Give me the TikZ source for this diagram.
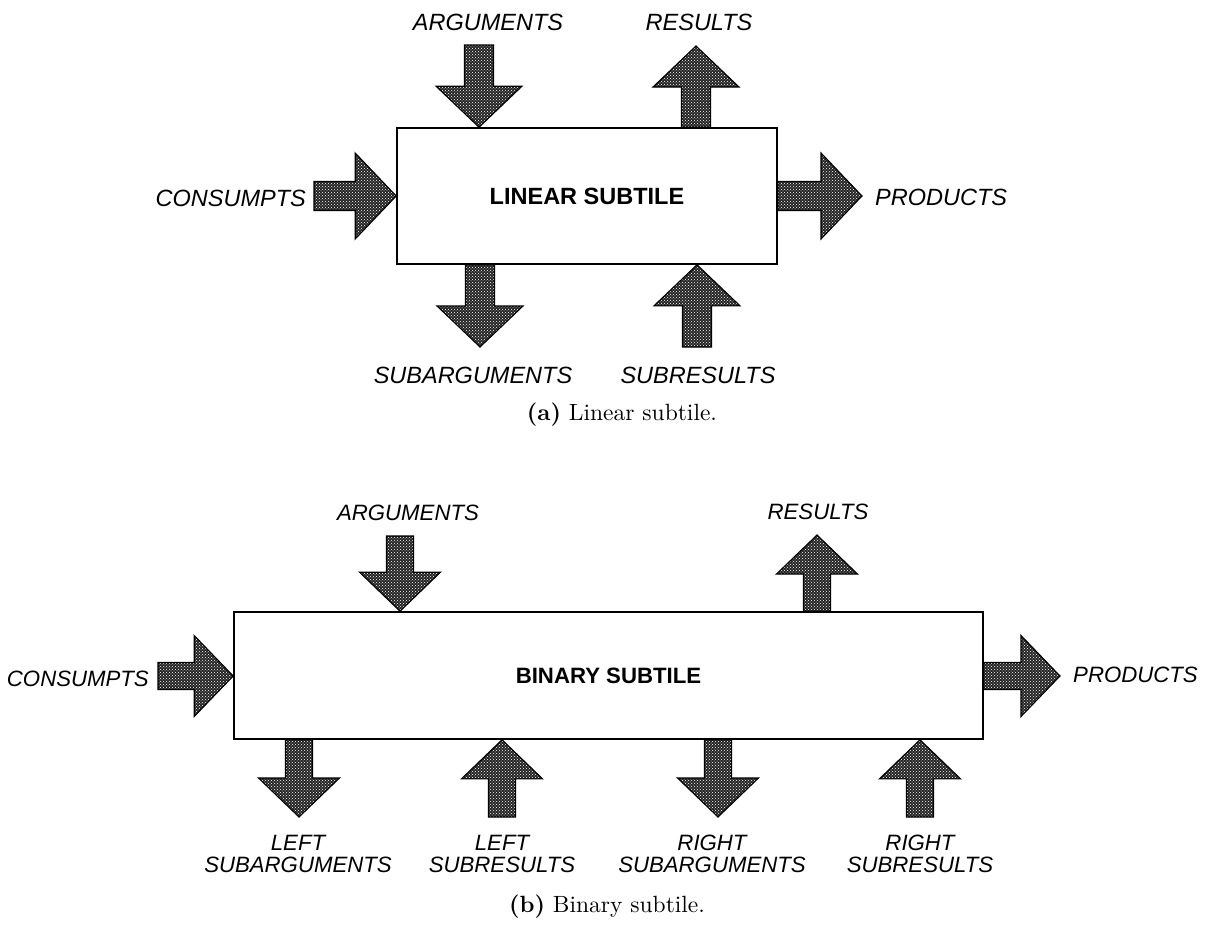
\documentclass[tikz,border=0pt]{standalone}
\usepackage{fontspec}
\usetikzlibrary{calc,patterns}
\newfontfamily\labelfont{Liberation Sans}
\newfontfamily\capfont{lmroman10-regular.otf}[BoldFont=lmroman10-bold.otf]

% Stippled block arrow from a tail point to a tip point.
% #1 tail, #2 tip, #3 shaft half-width, #4 head half-width, #5 head length
\newcommand\blockarrow[5]{%
  \coordinate (ba-neck) at ($(#2)!#5!(#1)$);
  \path[blockarrowstyle]
    ($(#1)!#3!90:(#2)$) -- ($(ba-neck)!#3!90:(#2)$) -- ($(ba-neck)!#4!90:(#2)$) -- (#2)
    -- ($(ba-neck)!#4!-90:(#2)$) -- ($(ba-neck)!#3!-90:(#2)$) -- ($(#1)!#3!-90:(#2)$) -- cycle;
}
\newcommand\arrowA[2]{\blockarrow{#1}{#2}{14.5pt}{43pt}{41pt}}
\newcommand\arrowB[2]{\blockarrow{#1}{#2}{13.5pt}{40.5pt}{39pt}}

\begin{document}
\begin{tikzpicture}[x=1pt,y=-1pt,
  tag/.style={font=\labelfont\itshape\fontsize{23.5}{24}\selectfont, inner sep=0pt},
  tagB/.style={font=\labelfont\itshape\fontsize{22.2}{22.5}\selectfont, inner sep=0pt, align=center},
  tile/.style={draw=black, line width=1.6pt, fill=white, inner sep=0pt},
  tileA/.style={tile, font=\labelfont\bfseries\fontsize{23.5}{24}\selectfont},
  tileB/.style={tile, font=\labelfont\bfseries\fontsize{22.2}{24}\selectfont},
  caption/.style={font=\capfont\fontsize{23.5}{28}\selectfont, inner sep=0pt},
  blockarrowstyle/.style={preaction={fill=black!86}, pattern=crosshatch dots,
    pattern color=white, draw=black, line width=1.1pt, line join=miter}]

\useasboundingbox (0,0) rectangle (1210,926);

% ---------------- (a) linear subtile ----------------
\node[tileA, minimum width=380pt, minimum height=136pt] (linbox) at (587,196) {LINEAR SUBTILE};

\coordinate (argA) at (479,45);
\coordinate (argAtip) at (argA |- linbox.north);
\coordinate (resA) at (696,46);
\coordinate (resAbase) at (resA |- linbox.north);
\coordinate (conA) at (314,196);
\coordinate (conAtip) at (conA -| linbox.west);
\coordinate (proA) at (862,196);
\coordinate (proAbase) at (proA -| linbox.east);
\coordinate (subargA) at (480,347);
\coordinate (subargAbase) at (subargA |- linbox.south);
\coordinate (subresA) at (697,347);
\coordinate (subresAtip) at (subresA |- linbox.south);

\arrowA{argA}{argAtip}
\arrowA{resAbase}{resA}
\arrowA{conA}{conAtip}
\arrowA{proAbase}{proA}
\arrowA{subargAbase}{subargA}
\arrowA{subresA}{subresAtip}

\node[tag] (argAlbl) at (488,22) {ARGUMENTS};
\node[tag] (resAlbl) at (699,22) {RESULTS};
\node[tag, anchor=east] (conAlbl) at (306,198) {CONSUMPTS};
\node[tag, anchor=west] (proAlbl) at (875,197) {PRODUCTS};
\node[tag] (subargAlbl) at (473,375) {SUBARGUMENTS};
\node[tag] (subresAlbl) at (698,375) {SUBRESULTS};
\node[caption] (capA) at (622,415) {\textbf{(a)} Linear subtile.};

% ---------------- (b) binary subtile ----------------
\node[tileB, minimum width=749pt, minimum height=127pt] (binbox) at (608.5,675.5) {BINARY SUBTILE};

\coordinate (argB) at (400,536);
\coordinate (argBtip) at (argB |- binbox.north);
\coordinate (resB) at (817,535);
\coordinate (resBbase) at (resB |- binbox.north);
\coordinate (conB) at (158,676);
\coordinate (conBtip) at (conB -| binbox.west);
\coordinate (proB) at (1060,676);
\coordinate (proBbase) at (proB -| binbox.east);
\coordinate (lsaB) at (299,817);
\coordinate (lsaBbase) at (lsaB |- binbox.south);
\coordinate (lsrB) at (502,817);
\coordinate (lsrBtip) at (lsrB |- binbox.south);
\coordinate (rsaB) at (718,817);
\coordinate (rsaBbase) at (rsaB |- binbox.south);
\coordinate (rsrB) at (920,817);
\coordinate (rsrBtip) at (rsrB |- binbox.south);

\arrowB{argB}{argBtip}
\arrowB{resBbase}{resB}
\arrowB{conB}{conBtip}
\arrowB{proBbase}{proB}
\arrowB{lsaBbase}{lsaB}
\arrowB{lsrB}{lsrBtip}
\arrowB{rsaBbase}{rsaB}
\arrowB{rsrB}{rsrBtip}

\node[tagB] (argBlbl) at (408,513) {ARGUMENTS};
\node[tagB] (resBlbl) at (818,512) {RESULTS};
\node[tagB, anchor=east] (conBlbl) at (149,679) {CONSUMPTS};
\node[tagB, anchor=west] (proBlbl) at (1073,675) {PRODUCTS};
\node[tagB] (lsaBlbl) at (298,854) {LEFT\\SUBARGUMENTS};
\node[tagB] (lsrBlbl) at (502,854) {LEFT\\SUBRESULTS};
\node[tagB] (rsaBlbl) at (712,854) {RIGHT\\SUBARGUMENTS};
\node[tagB] (rsrBlbl) at (920,854) {RIGHT\\SUBRESULTS};
\node[caption] (capB) at (607,907) {\textbf{(b)} Binary subtile.};

\end{tikzpicture}
\end{document}
